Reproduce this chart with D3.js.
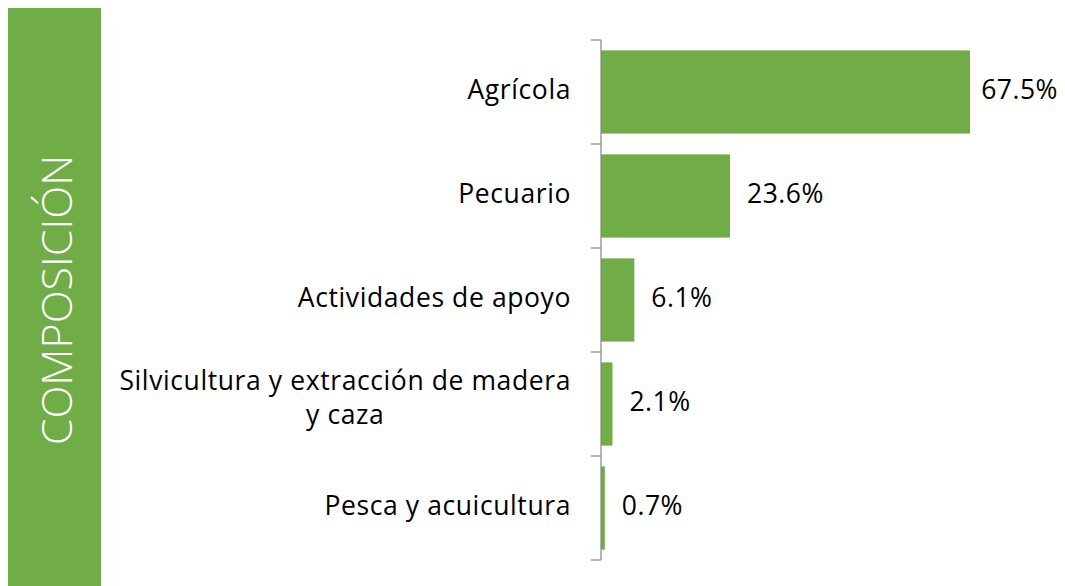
<!DOCTYPE html>
<html>
<head>
<meta charset="utf-8">
<script src="https://cdn.jsdelivr.net/npm/d3@7"></script>
<style>
  html, body { margin: 0; padding: 0; background: #ffffff; }
  svg { display: block; }
  text { font-family: "Open Sans", "Noto Sans", sans-serif; fill: #000; }
</style>
</head>
<body>
<svg id="chart" width="1065" height="586"></svg>
<script>
// ---- data ----
const categories = [
  ["Agrícola"],
  ["Pecuario"],
  ["Actividades de apoyo"],
  ["Silvicultura y extracción de madera", "y caza"],
  ["Pesca y acuicultura"]
];
const values = [67.5, 23.6, 6.1, 2.1, 0.7];
const valueLabels = ["67.5%", "23.6%", "6.1%", "2.1%", "0.7%"];
const sideTitle = "COMPOSICIÓN";

// ---- layout ----
const W = 1065, H = 586;
const svg = d3.select("#chart");
const green = "#70ad47";

const keys = categories.map(c => c.join(" "));
const rows = keys.map((k, i) => ({ key: k, lines: categories[i], value: values[i], label: valueLabels[i] }));

const y = d3.scaleBand().domain(keys).range([40, 560]).paddingInner(0.2).paddingOuter(0.1);
const x = d3.scaleLinear().domain([0, 67.5]).range([601, 970]);

// side band
svg.append("rect").attr("x", 8).attr("y", 8).attr("width", 93).attr("height", H - 8).attr("fill", green);
svg.append("text")
  .attr("transform", `translate(72,300) rotate(-90)`)
  .attr("text-anchor", "middle")
  .style("font-weight", 300)
  .style("font-size", "43px")
  .style("fill", "#ffffff")
  .text(sideTitle);

// bars
svg.append("g").selectAll("rect").data(rows).join("rect")
  .attr("x", x(0))
  .attr("y", d => y(d.key))
  .attr("width", d => x(d.value) - x(0))
  .attr("height", y.bandwidth())
  .attr("fill", green);

// axis line + boundary ticks
const step = y.step();
const bounds = keys.map(k => y(k) - y.paddingInner() * step / 2);
bounds.push(y(keys[keys.length - 1]) + y.bandwidth() + y.paddingInner() * step / 2);
const axis = svg.append("g").attr("stroke", "#868686").attr("stroke-width", 1.2);
axis.append("line").attr("x1", x(0)).attr("x2", x(0)).attr("y1", bounds[0]).attr("y2", bounds[bounds.length - 1]);
axis.selectAll("line.tick").data(bounds).join("line").attr("class", "tick")
  .attr("x1", x(0) - 10).attr("x2", x(0)).attr("y1", d => d).attr("y2", d => d);

// category labels
const labelRight = 571;
const lineH = 34;
const catG = svg.append("g").style("font-size", "26.5px").style("letter-spacing", "0.6px");
rows.forEach(d => {
  const cy = y(d.key) + y.bandwidth() / 2;
  const n = d.lines.length;
  if (n === 1) {
    catG.append("text").attr("x", labelRight).attr("y", cy + 7).attr("text-anchor", "end").text(d.lines[0]);
  } else {
    const texts = d.lines.map((ln, j) => catG.append("text").attr("text-anchor", "middle")
      .attr("y", cy + 3 + (j - (n - 1) / 2) * lineH).text(ln));
    const maxW = d3.max(texts, s => s.node().getComputedTextLength());
    texts.forEach(s => s.attr("x", labelRight - maxW / 2));
  }
});

// value labels
const valG = svg.append("g").style("font-size", "26.5px").style("letter-spacing", "0.5px");
rows.forEach(d => {
  const cy = y(d.key) + y.bandwidth() / 2;
  const t = valG.append("text").attr("y", cy + 7).attr("x", x(d.value) + 17).text(d.label);
  const w = t.node().getComputedTextLength();
  if (x(d.value) + 17 + w > 1058) t.attr("x", 1058 - w);
});
</script>
</body>
</html>
